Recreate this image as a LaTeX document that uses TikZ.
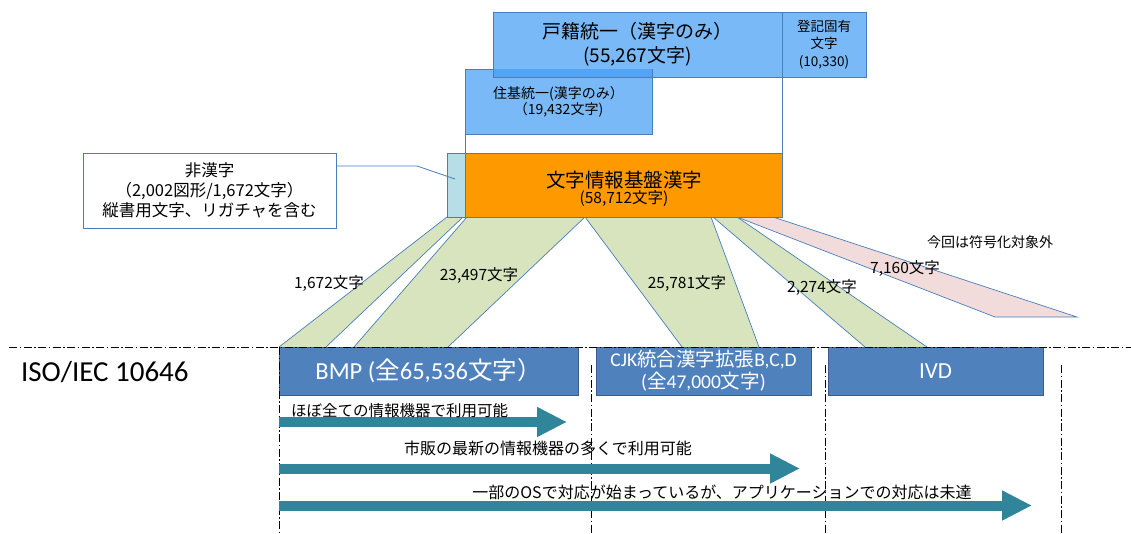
\documentclass[tikz,border=0pt]{standalone}
\usepackage{fontspec}
\setmainfont{Noto Sans CJK JP}
\newfontfamily\carl{Carlito}
\usetikzlibrary{arrows.meta}
\definecolor{bandgreen}{RGB}{215,228,189}
\definecolor{bandpink}{RGB}{242,220,219}
\definecolor{edgeblue}{RGB}{74,126,187}
\definecolor{topblue}{RGB}{121,185,247}
\definecolor{overlapblue}{RGB}{84,164,245}
\definecolor{orangefill}{RGB}{255,153,0}
\definecolor{lightcyan}{RGB}{183,221,232}
\definecolor{isoblue}{RGB}{79,129,189}
\definecolor{isoedge}{RGB}{56,93,138}
\definecolor{arrowteal}{RGB}{49,133,155}
\begin{document}
\begin{tikzpicture}[x=1pt,y=-1pt,
  every node/.style={inner sep=0pt, outer sep=0pt},
  boxbase/.style={draw=edgeblue, line width=0.8pt, anchor=north west, align=center},
  topbox/.style={boxbase, fill=topblue},
  isobox/.style={draw=isoedge, line width=0.8pt, fill=isoblue, anchor=north west, align=center, text=white, minimum height=48pt},
  bandline/.style={draw=edgeblue, line width=0.7pt},
  dashdot/.style={line width=0.7pt, dash pattern=on 8pt off 2.5pt on 1.5pt off 2.5pt},
  blockarrow/.style={draw=arrowteal, line width=10pt, -{Triangle[length=30pt,width=28pt]}},
  lbl/.style={font=\fontsize{15.5}{18}\selectfont},
  arrlbl/.style={font=\fontsize{16}{19}\selectfont}
]
\useasboundingbox (0,0) rectangle (1131,533);
\fill[white] (0,0) rectangle (1131,533);

% bands
\fill[bandgreen] (447,217) -- (463,217) -- (326,347) -- (279,347) -- cycle;
\draw[bandline] (447,217) -- (279,347) (463,217) -- (326,347);
\fill[bandgreen] (467,217) -- (585,217) -- (448,347) -- (354,347) -- cycle;
\draw[bandline] (467,217) -- (354,347) (585,217) -- (448,347);
\fill[bandgreen] (585,217) -- (711,217) -- (759,347) -- (682,347) -- cycle;
\draw[bandline] (585,217) -- (682,347) (711,217) -- (759,347);
\fill[bandgreen] (713,217) -- (737,217) -- (927,347) -- (865,347) -- cycle;
\draw[bandline] (713,217) -- (865,347) (737,217) -- (927,347);
\filldraw[fill=bandpink, draw=edgeblue, line width=0.7pt] (737,217) -- (773,217) -- (1077,317) -- (995,317) -- cycle;

% top boxes
\node[topbox, minimum width=289pt, minimum height=65pt, font=\fontsize{19}{24}\selectfont] (koseki) at (493,12) {戸籍統一（漢字のみ）\\(55,267文字)};
\node[topbox, minimum width=84pt, minimum height=65pt, font=\fontsize{13.5}{17.5}\selectfont] (toki) at (782,12) {登記固有\\文字\\(10,330)};
\node[topbox, minimum width=187pt, minimum height=65pt, font=\fontsize{14}{16}\selectfont] (juki) at (465,69) {住基統一(漢字のみ）\\（19,432文字)};
\fill[overlapblue] (493.4,69.4) rectangle (651.6,76.6);
\draw[edgeblue, line width=0.8pt] (493,69) -- (493,77) -- (652,77);
\node[boxbase, fill=lightcyan, minimum width=18pt, minimum height=64pt] (hk) at (447,153) {};
\node[boxbase, fill=orangefill, minimum width=317pt, minimum height=64pt] (kiban) at (465,153) {};
\node[font=\fontsize{19.5}{22}\selectfont] (kibanname) at (624,180) {文字情報基盤漢字};
\node[font=\fontsize{15.5}{18}\selectfont] (kibancount) at (624,198) {(58,712文字)};
\draw[edgeblue, line width=0.8pt] (juki.south west) -- (kiban.north west);
\draw[edgeblue, line width=0.8pt] (toki.south west) -- (kiban.north east);

% non-kanji callout
\node[boxbase, fill=white, minimum width=253pt, minimum height=75pt, font=\fontsize{16.5}{20}\selectfont] (hikanji) at (83,153) {非漢字\\（2,002図形/1,672文字）\\縦書用文字、リガチャを含む};
\coordinate (callbend) at (417,166);
\coordinate (callend) at (455,179);
\draw[edgeblue, line width=0.8pt] ([yshift=-13pt]hikanji.north east) -- (callbend) -- (callend);

% band labels
\node[lbl] (l1) at (329,283) {1,672文字};
\node[lbl] (l2) at (479,275) {23,497文字};
\node[lbl] (l3) at (687,283) {25,781文字};
\node[lbl] (l4) at (822,287) {2,274文字};
\node[lbl] (l5) at (905,268) {7,160文字};
\node[font=\fontsize{14}{16}\selectfont] (l6) at (990,242) {今回は符号化対象外};

% ISO boxes
\node[anchor=west, font=\carl\fontsize{29}{33}\selectfont] (iso) at (21,372) {ISO/IEC 10646};
\node[isobox, minimum width=299pt, font=\fontsize{24.5}{28}\selectfont] (bmp) at (279,347) {{\carl BMP (}全{\carl 65,536}文字）};
\node[isobox, minimum width=215pt, font=\fontsize{19.5}{22}\selectfont] (cjk) at (596,347) {{\carl CJK}統合漢字拡張{\carl B,C,D}\\{\carl (}全{\carl 47,000}文字{\carl )}};
\node[isobox, minimum width=215pt, font=\carl\fontsize{23}{26}\selectfont] (ivd) at (828,347) {IVD};

% dash-dot lines
\coordinate (h0) at (9,347); \coordinate (h1) at (1131,347);
\draw[dashdot] (h0) -- (h1);
\coordinate (v1t) at (279,347); \coordinate (v1b) at (279,533);
\coordinate (v2t) at (591,365); \coordinate (v2b) at (591,533);
\coordinate (v3t) at (825,365); \coordinate (v3b) at (825,533);
\coordinate (v4t) at (1061,365); \coordinate (v4b) at (1061,533);
\draw[dashdot] (v1t) -- (v1b);
\draw[dashdot] (v2t) -- (v2b);
\draw[dashdot] (v3t) -- (v3b);
\draw[dashdot] (v4t) -- (v4b);

% arrows
\coordinate (a1s) at (279,422); \coordinate (a1e) at (567,422);
\coordinate (a2s) at (279,468.5); \coordinate (a2e) at (800,468.5);
\coordinate (a3s) at (279,505.5); \coordinate (a3e) at (1032,505.5);
\draw[blockarrow] (a1s) -- (a1e);
\draw[blockarrow] (a2s) -- (a2e);
\draw[blockarrow] (a3s) -- (a3e);
\node[arrlbl, anchor=west, font=\fontsize{15.5}{18}\selectfont] (t1) at (291,411) {ほぼ全ての情報機器で利用可能};
\node[arrlbl] (t2) at (548,448) {市販の最新の情報機器の多くで利用可能};
\node[arrlbl] (t3) at (722,492) {一部のOSで対応が始まっているが、アプリケーションでの対応は未達};
\end{tikzpicture}
\end{document}
